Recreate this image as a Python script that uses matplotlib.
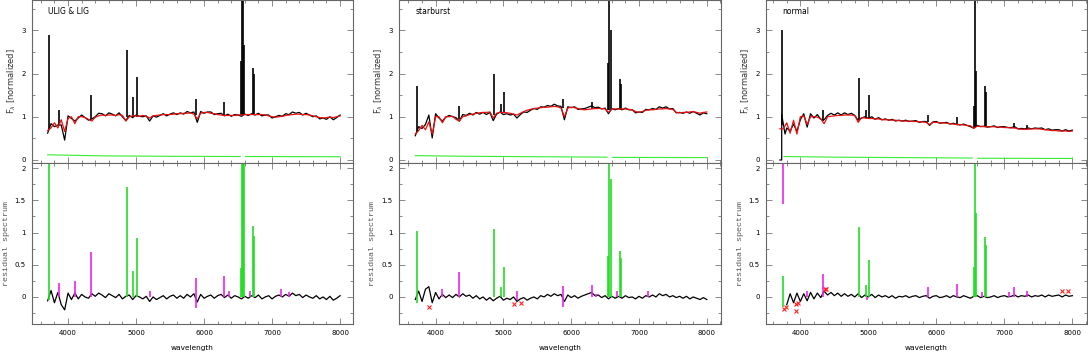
import numpy as np
import matplotlib
matplotlib.use("Agg")
import matplotlib.pyplot as plt
from matplotlib.ticker import MultipleLocator

# wavelength grid the continuum / residual values were read at (every 50 A)
wave = np.arange(3700, 8001, 50)

panelNames = ["ULIG & LIG", "starburst", "normal"]

# red model fits (top panels)
modelUlig = [
	0.68, 0.74, 0.86, 0.74, 0.93, 0.66, 0.96, 1.00, 0.84, 1.00,
	1.00, 0.98, 0.94, 0.90, 0.99, 1.02, 1.04, 1.03, 1.04, 1.04,
	1.03, 1.05, 1.03, 0.90, 1.00, 1.02, 1.02, 1.01, 1.03, 1.01,
	0.97, 1.02, 1.03, 1.04, 1.05, 1.05, 1.05, 1.06, 1.07, 1.07,
	1.08, 1.08, 1.09, 1.06, 0.95, 1.08, 1.10, 1.10, 1.08, 1.07,
	1.05, 1.04, 1.03, 1.03, 1.03, 1.03, 1.04, 1.04, 1.05, 1.05,
	1.05, 1.05, 1.05, 1.05, 1.04, 1.02, 1.00, 0.99, 1.00, 1.01,
	1.03, 1.04, 1.05, 1.06, 1.06, 1.05, 1.05, 1.04, 1.02, 1.00,
	0.98, 0.97, 0.98, 0.99, 0.98, 1.00, 1.02]
modelStarburst = [
	0.60, 0.68, 0.80, 0.70, 0.88, 0.60, 1.00, 1.00, 0.86, 1.00,
	1.00, 1.01, 0.94, 0.90, 1.00, 1.02, 1.05, 1.06, 1.08, 1.09,
	1.10, 1.10, 1.11, 0.97, 1.08, 1.10, 1.10, 1.09, 1.08, 1.06,
	1.04, 1.08, 1.12, 1.15, 1.17, 1.19, 1.20, 1.21, 1.22, 1.22,
	1.23, 1.24, 1.23, 1.20, 1.00, 1.20, 1.22, 1.21, 1.19, 1.17,
	1.16, 1.17, 1.18, 1.19, 1.19, 1.19, 1.18, 1.10, 1.18, 1.18,
	1.18, 1.18, 1.18, 1.17, 1.16, 1.12, 1.10, 1.12, 1.15, 1.16,
	1.16, 1.17, 1.18, 1.18, 1.19, 1.18, 1.17, 1.10, 1.09, 1.10,
	1.10, 1.11, 1.12, 1.10, 1.08, 1.10, 1.11]
modelNormal = [
	0.72, 0.72, 0.86, 0.62, 0.92, 0.60, 1.00, 1.02, 0.82, 1.00,
	1.00, 0.99, 0.95, 0.84, 1.00, 1.01, 1.02, 1.03, 1.03, 1.04,
	1.04, 1.04, 1.03, 0.87, 0.98, 0.97, 0.96, 0.96, 0.95, 0.95,
	0.93, 0.93, 0.93, 0.92, 0.92, 0.91, 0.90, 0.90, 0.90, 0.89,
	0.89, 0.88, 0.88, 0.87, 0.82, 0.87, 0.87, 0.86, 0.86, 0.85,
	0.84, 0.83, 0.82, 0.82, 0.81, 0.80, 0.79, 0.73, 0.78, 0.78,
	0.77, 0.77, 0.77, 0.77, 0.76, 0.76, 0.75, 0.75, 0.74, 0.74,
	0.72, 0.71, 0.71, 0.71, 0.72, 0.72, 0.72, 0.71, 0.70, 0.69,
	0.68, 0.68, 0.67, 0.67, 0.67, 0.66, 0.67]

# black residual spectra (bottom panels), observed - model
residUlig = [
	-0.06, 0.10, -0.09, 0.07, -0.12, -0.20, 0.06, -0.04, 0.06, -0.03,
	0.04, 0.00, -0.02, 0.05, 0.01, 0.06, 0.03, -0.01, 0.05, 0.02,
	-0.01, 0.04, -0.03, 0.01, 0.03, -0.04, 0.02, 0.00, -0.03, 0.01,
	-0.07, 0.00, -0.04, -0.01, 0.02, -0.03, 0.01, 0.03, -0.02, 0.02,
	-0.02, 0.04, 0.00, 0.05, -0.08, 0.04, -0.02, 0.01, 0.03, -0.02,
	0.02, 0.04, -0.01, 0.03, -0.02, 0.02, 0.00, -0.03, 0.01, -0.02,
	0.02, -0.01, 0.03, -0.03, 0.00, 0.02, -0.03, 0.01, 0.03, 0.00,
	0.04, 0.01, 0.06, 0.02, 0.04, -0.01, 0.03, 0.00, -0.02, 0.02,
	-0.03, 0.00, -0.04, 0.01, -0.05, -0.02, 0.02]
residStarburst = [
	-0.04, 0.09, -0.07, 0.12, 0.16, -0.09, 0.07, -0.03, 0.04, -0.01,
	0.03, -0.01, 0.04, 0.00, 0.05, 0.01, 0.03, -0.02, 0.02, -0.03,
	0.00, -0.05, -0.01, -0.06, -0.02, 0.01, -0.05, -0.02, -0.04, 0.00,
	-0.07, -0.03, -0.01, -0.05, -0.02, 0.00, -0.03, 0.02, 0.00, 0.04,
	0.01, 0.05, 0.02, 0.04, -0.07, 0.03, -0.01, 0.02, -0.02, 0.01,
	0.03, 0.05, 0.07, 0.02, 0.03, -0.01, 0.02, -0.03, 0.01, -0.02,
	0.01, -0.02, 0.02, -0.01, 0.00, -0.03, 0.01, -0.02, 0.02, 0.00,
	0.03, 0.00, 0.05, 0.02, 0.04, 0.00, 0.02, -0.01, 0.01, -0.02,
	0.01, -0.03, 0.00, -0.02, -0.04, -0.01, -0.04]
residNormal = [
	np.nan, np.nan, -0.12, 0.05, -0.09, 0.06, -0.07, 0.05, -0.06, 0.07,
	-0.03, 0.06, -0.01, 0.09, 0.03, 0.07, 0.02, 0.06, 0.01, 0.05,
	0.01, 0.04, 0.00, 0.05, -0.01, 0.03, 0.00, 0.04, -0.01, 0.03,
	0.00, 0.02, -0.01, 0.02, -0.02, 0.01, 0.00, 0.02, -0.01, 0.01,
	0.02, -0.01, 0.01, 0.02, -0.02, 0.01, 0.02, -0.01, 0.00, 0.02,
	-0.01, 0.02, 0.00, -0.01, 0.02, 0.00, -0.02, 0.01, 0.02, -0.01,
	0.01, -0.01, 0.00, 0.02, -0.01, 0.01, 0.02, 0.00, 0.01, 0.03,
	0.00, 0.02, 0.01, 0.03, 0.00, 0.02, 0.01, 0.03, 0.00, 0.03,
	0.01, 0.02, 0.03, 0.00, 0.03, 0.01, 0.02]

# the normal spectrum starts at zero below [OII]
obsStartWave = [[], [], [3700, 3726, 3726, 3775]]
obsStartFlux = [[], [], [0.0, 0.0, 1.05, 0.60]]

# emission lines in the observed spectrum: wavelength, continuum, peak
topLinesUlig = [(3727, 0.72, 2.9), (3869, 0.80, 1.15), (4340, 0.95, 1.5), (4861, 1.0, 2.55),
	(4959, 1.0, 1.45), (5007, 1.0, 1.93), (5876, 1.05, 1.4), (6300, 1.03, 1.33),
	(6550, 1.05, 2.3), (6563, 1.05, 3.8), (6572, 1.05, 3.8), (6583, 1.05, 2.65),
	(6717, 1.05, 2.13), (6731, 1.05, 2.0)]
topLinesStarburst = [(3727, 0.65, 1.7), (4340, 0.95, 1.25), (4861, 1.05, 2.0), (4959, 1.08, 1.3),
	(5007, 1.1, 1.57), (5876, 1.2, 1.42), (6300, 1.17, 1.35), (6550, 1.15, 2.25),
	(6563, 1.15, 3.8), (6583, 1.15, 3.0), (6717, 1.18, 1.87), (6731, 1.18, 1.75)]
topLinesNormal = [(3727, 0.8, 3.0), (4340, 0.9, 1.15), (4861, 0.95, 1.9), (4959, 0.97, 1.15),
	(5007, 0.96, 1.5), (5876, 0.87, 1.05), (6300, 0.82, 1.0), (6550, 0.76, 1.25),
	(6563, 0.76, 3.8), (6583, 0.78, 2.05), (6717, 0.77, 1.7), (6731, 0.77, 1.58),
	(7136, 0.74, 0.85), (7330, 0.71, 0.8)]

# green error spectrum in the top panels
errWave = [[3700, 4500, 5500, 6530, np.nan, 6610, 8000],
	[3700, 4500, 5500, 6530, np.nan, 6610, 8000],
	[3760, 4500, 5500, 6530, np.nan, 6610, 8000]]
errFlux = [[0.12, 0.095, 0.085, 0.08, np.nan, 0.08, 0.075],
	[0.10, 0.085, 0.075, 0.065, np.nan, 0.06, 0.055],
	[0.08, 0.065, 0.055, 0.045, np.nan, 0.04, 0.035]]

# fitted gas emission lines (green) in the residual: wavelength, low, high
greenUlig = [(3727, -0.05, 2.1), (4861, 0, 1.7), (4959, 0, 0.4), (5007, 0, 0.92),
	(6548, 0, 0.45), (6560, 0, 2.1), (6570, 0, 2.1), (6583, 0, 2.1), (6717, 0, 1.1), (6731, 0, 0.95)]
greenStarburst = [(3727, -0.1, 1.03), (4861, 0, 1.05), (4959, 0, 0.15), (5007, 0, 0.47),
	(6548, 0, 0.63), (6563, 0, 2.1), (6583, 0, 1.83), (6717, 0, 0.72), (6731, 0, 0.6)]
greenNormal = [(3745, -0.15, 0.33), (4861, 0, 1.08), (4959, 0, 0.18), (5007, 0, 0.58),
	(6548, 0, 0.47), (6563, 0, 2.1), (6583, 0, 1.3), (6717, 0, 0.93), (6731, 0, 0.8)]

# other lines (magenta)
magentaUlig = [(3869, 0, 0.22), (4101, 0, 0.25), (4340, 0, 0.7), (5199, 0, 0.1), (5876, -0.17, 0.3),
	(6300, 0, 0.32), (6364, 0, 0.1), (6678, 0, 0.1), (7136, 0, 0.13), (7254, 0, 0.07)]
magentaStarburst = [(4101, 0, 0.13), (4340, 0, 0.38), (5199, -0.05, 0.1), (5876, -0.15, 0.17),
	(6300, 0, 0.19), (6364, 0, 0.05), (6678, 0, 0.1), (7136, 0, 0.09)]
magentaNormal = [(3750, 1.45, 2.1), (4101, 0, 0.1), (4340, 0, 0.35), (4980, -0.04, 0.0),
	(5876, 0, 0.15), (6300, 0, 0.2), (6678, 0, 0.08), (7065, 0, 0.07), (7136, 0, 0.15), (7330, 0, 0.1)]

# rejected pixels (red crosses)
rejWave = [[], [3905, 5150, 5255], [3765, 3784, 3936, 3936, 3971, 4363, 4383, 7853, 7931]]
rejFlux = [[], [-0.15, -0.11, -0.10], [-0.18, -0.155, -0.11, -0.22, -0.10, 0.12, 0.12, 0.09, 0.09]]

models = [modelUlig, modelStarburst, modelNormal]
resids = [residUlig, residStarburst, residNormal]
topLines = [topLinesUlig, topLinesStarburst, topLinesNormal]
greens = [greenUlig, greenStarburst, greenNormal]
magentas = [magentaUlig, magentaStarburst, magentaNormal]

# pixel layout of the three columns
panelLeft = [32, 399, 766]
panelWidth = [321, 322, 321]
xLims = [(3470, 8190), (3460, 8210), (3495, 8215)]

W, H = 1088.0, 354.0
axisCol = '#666666'


def styleAxes(ax, xlim):
	ax.set_xlim(xlim)
	ax.xaxis.set_major_locator(MultipleLocator(1000))
	ax.xaxis.set_minor_locator(MultipleLocator(200))
	ax.tick_params(which='both', direction='in', top=True, right=True, color='#777777',
		labelsize=5, pad=4.5)
	ax.tick_params(which='major', length=4, width=0.6)
	ax.tick_params(which='minor', length=2, width=0.6)
	for s in ax.spines.values():
		s.set_color(axisCol)
		s.set_linewidth(0.8)


def drawLines(ax, lines, col, lw=1.0):
	for l in lines:
		ax.vlines(l[0], l[1], l[2], color=col, lw=lw)


def main():
	fig = plt.figure(figsize=(W / 100, H / 100), dpi=100)

	for i in range(3):
		x0 = panelLeft[i] / W
		w = panelWidth[i] / W
		axTop = fig.add_axes([x0, (H - 163) / H, w, 163 / H])
		axBot = fig.add_axes([x0, (H - 324) / H, w, 161 / H])

		model = np.array(models[i])
		resid = np.array(resids[i])
		obs = model + resid
		ok = np.isfinite(obs)
		obsW = np.concatenate([obsStartWave[i], wave[ok]])
		obsF = np.concatenate([obsStartFlux[i], obs[ok]])

		# top: observed, model, error
		axTop.plot(obsW, obsF, color='black', lw=0.9)
		drawLines(axTop, topLines[i], 'black', 1.2)
		axTop.plot(wave, model, color='#e81010', lw=0.9)
		axTop.plot(errWave[i], errFlux[i], color='#33ee33', lw=0.8)
		styleAxes(axTop, xLims[i])
		axTop.set_ylim(-0.07, 3.7)
		axTop.yaxis.set_major_locator(MultipleLocator(1))
		axTop.yaxis.set_minor_locator(MultipleLocator(0.5))
		axTop.tick_params(labelbottom=False)
		axTop.set_ylabel(r'F$_\lambda$ [normalized]', fontsize=6, color='#333333')
		axTop.yaxis.set_label_coords(-0.045, 0.5)
		axTop.text(0.05, 0.955, panelNames[i], transform=axTop.transAxes,
			fontsize=5.5, va='top', ha='left')

		# bottom: residual, gas lines, other lines
		axBot.plot(wave, resid, color='black', lw=0.9)
		drawLines(axBot, greens[i], '#22dd22', 1.2)
		drawLines(axBot, magentas[i], '#ee22ee', 1.2)
		axBot.plot(rejWave[i], rejFlux[i], 'x', color='#ff2222', ms=2.5, mew=0.8)
		styleAxes(axBot, xLims[i])
		axBot.set_ylim(-0.42, 2.08)
		axBot.yaxis.set_major_locator(MultipleLocator(0.5))
		axBot.yaxis.set_minor_locator(MultipleLocator(0.25))
		axBot.yaxis.set_major_formatter(plt.FuncFormatter(lambda v, p: ('%g' % v)))
		axBot.set_xlabel('wavelength', fontsize=5.3, labelpad=6)
		axBot.set_ylabel('residual spectrum', fontsize=6.0, family='Liberation Mono',
			color='#555555')
		axBot.yaxis.set_label_coords(-0.07, 0.5)

	fig.savefig('out.png', dpi=100)


if __name__ == "__main__":
	main()
